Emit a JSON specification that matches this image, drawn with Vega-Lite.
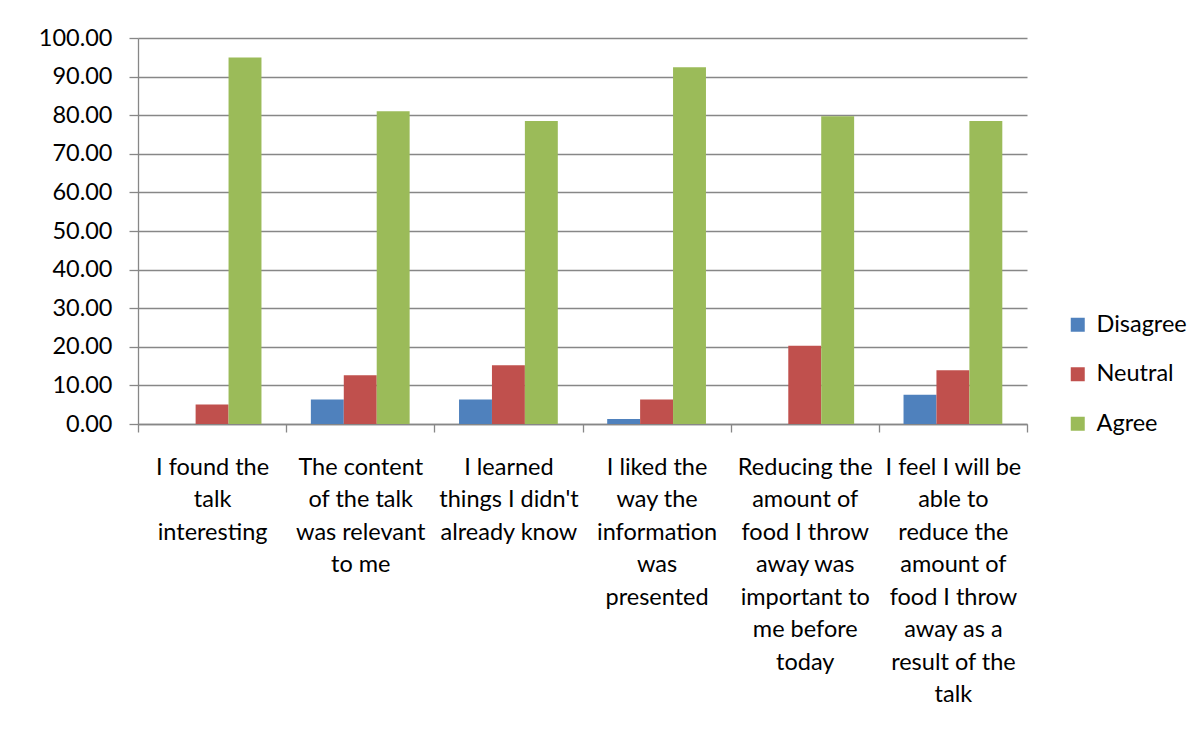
{
  "$schema": "https://vega.github.io/schema/vega-lite/v6.json",
  "width": 889,
  "height": 386,
  "autosize": {"type": "none"},
  "padding": {"left": 138, "top": 38, "right": 173, "bottom": 307},
  "background": "white",
  "data": {
    "values": [
      {"statement": "I found the talk interesting", "response": "Disagree", "value": 0},
      {"statement": "I found the talk interesting", "response": "Neutral", "value": 5.06},
      {"statement": "I found the talk interesting", "response": "Agree", "value": 94.94},
      {"statement": "The content of the talk was relevant to me", "response": "Disagree", "value": 6.33},
      {"statement": "The content of the talk was relevant to me", "response": "Neutral", "value": 12.66},
      {"statement": "The content of the talk was relevant to me", "response": "Agree", "value": 81.01},
      {"statement": "I learned things I didn't already know", "response": "Disagree", "value": 6.33},
      {"statement": "I learned things I didn't already know", "response": "Neutral", "value": 15.19},
      {"statement": "I learned things I didn't already know", "response": "Agree", "value": 78.48},
      {"statement": "I liked the way the information was presented", "response": "Disagree", "value": 1.27},
      {"statement": "I liked the way the information was presented", "response": "Neutral", "value": 6.33},
      {"statement": "I liked the way the information was presented", "response": "Agree", "value": 92.41},
      {"statement": "Reducing the amount of food I throw away was important to me before today", "response": "Disagree", "value": 0},
      {"statement": "Reducing the amount of food I throw away was important to me before today", "response": "Neutral", "value": 20.25},
      {"statement": "Reducing the amount of food I throw away was important to me before today", "response": "Agree", "value": 79.75},
      {"statement": "I feel I will be able to reduce the amount of food I throw away as a result of the talk", "response": "Disagree", "value": 7.59},
      {"statement": "I feel I will be able to reduce the amount of food I throw away as a result of the talk", "response": "Neutral", "value": 13.92},
      {"statement": "I feel I will be able to reduce the amount of food I throw away as a result of the talk", "response": "Agree", "value": 78.48}
    ]
  },
  "mark": {"type": "bar"},
  "encoding": {
    "x": {
      "field": "statement",
      "type": "nominal",
      "sort": [
        "I found the talk interesting",
        "The content of the talk was relevant to me",
        "I learned things I didn't already know",
        "I liked the way the information was presented",
        "Reducing the amount of food I throw away was important to me before today",
        "I feel I will be able to reduce the amount of food I throw away as a result of the talk"
      ],
      "scale": {"paddingInner": 0, "paddingOuter": 0},
      "axis": {
        "title": null,
        "grid": false,
        "labelAngle": 0,
        "labelLimit": 400,
        "labelFont": "Lato",
        "labelFontSize": 23.5,
        "labelColor": "black",
        "labelLineHeight": 32.5,
        "labelPadding": 23,
        "labelOverlap": false,
        "domainColor": "#878787",
        "domainWidth": 1.3,
        "tickColor": "#878787",
        "tickWidth": 1.3,
        "tickSize": 8,
        "tickBand": "extent",
        "labelExpr": "datum.value == 'I found the talk interesting' ? ['I found the', 'talk', 'interesting'] : datum.value == 'The content of the talk was relevant to me' ? ['The content', 'of the talk', 'was relevant', 'to me'] : datum.value == \"I learned things I didn't already know\" ? ['I learned', \"things I didn't\", 'already know'] : datum.value == 'I liked the way the information was presented' ? ['I liked the', 'way the', 'information', 'was', 'presented'] : datum.value == 'Reducing the amount of food I throw away was important to me before today' ? ['Reducing the', 'amount of', 'food I throw', 'away was', 'important to', 'me before', 'today'] : datum.value == 'I feel I will be able to reduce the amount of food I throw away as a result of the talk' ? ['I feel I will be', 'able to', 'reduce the', 'amount of', 'food I throw', 'away as a', 'result of the', 'talk'] : ''"
      }
    },
    "xOffset": {
      "field": "response",
      "type": "nominal",
      "sort": ["Disagree", "Neutral", "Agree"],
      "scale": {"paddingInner": 0, "paddingOuter": 0.75}
    },
    "y": {
      "field": "value",
      "type": "quantitative",
      "scale": {"domain": [0, 100]},
      "axis": {
        "title": null,
        "values": [0, 10, 20, 30, 40, 50, 60, 70, 80, 90, 100],
        "format": ".2f",
        "grid": true,
        "gridColor": "#878787",
        "gridWidth": 1.3,
        "domainColor": "#878787",
        "domainWidth": 1.3,
        "tickColor": "#878787",
        "tickWidth": 1.3,
        "tickSize": 9,
        "labelPadding": 17,
        "labelFont": "Lato",
        "labelFontSize": 23.5,
        "labelColor": "black"
      }
    },
    "color": {
      "field": "response",
      "type": "nominal",
      "sort": ["Disagree", "Neutral", "Agree"],
      "scale": {"domain": ["Disagree", "Neutral", "Agree"], "range": ["#4F81BD", "#C0504D", "#9BBB59"]},
      "legend": {
        "title": null,
        "orient": "none",
        "legendX": 928,
        "legendY": 275,
        "symbolType": "square",
        "symbolSize": 196,
        "symbolStrokeWidth": 0,
        "labelFont": "Lato",
        "labelFontSize": 23.5,
        "labelColor": "black",
        "labelOffset": 7,
        "rowPadding": 24.5
      }
    }
  },
  "config": {"view": {"stroke": null}}
}
